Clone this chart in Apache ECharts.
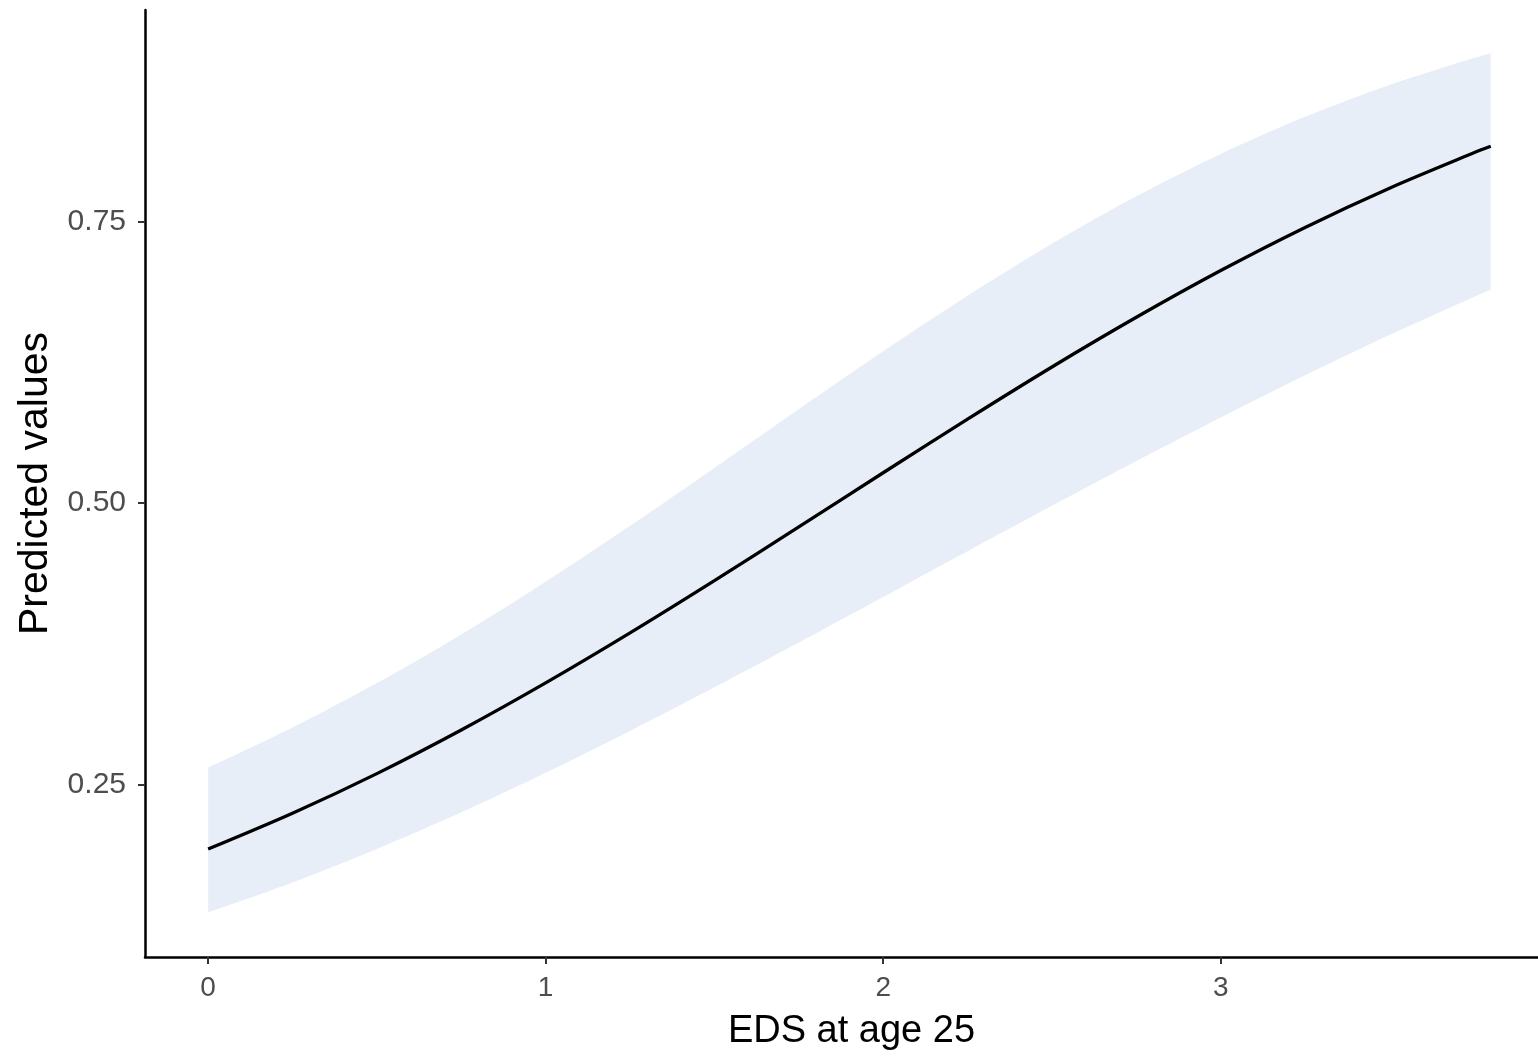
<!DOCTYPE html>
<html>
<head>
<meta charset="utf-8">
<script src="https://cdn.jsdelivr.net/npm/echarts@6/dist/echarts.min.js"></script>
<style>
html,body{margin:0;padding:0;background:#fff;}
#chart{width:1538px;height:1056px;}
</style>
</head>
<body>
<div id="chart"></div>
<script>
// EDS at age 25 (x) values
var xValues = [0, 0.25, 0.5, 0.75, 1.0, 1.25, 1.5, 1.75, 2.0, 2.25, 2.5, 2.75, 3.0, 3.25, 3.5, 3.75, 3.8];
// predicted values (fitted line)
var fitValues = [0.1927, 0.2245, 0.2597, 0.2984, 0.3402, 0.3846, 0.4310, 0.4787, 0.5268, 0.5744, 0.6207, 0.6648, 0.7063, 0.7446, 0.7794, 0.8108, 0.8166];
// confidence band
var upperValues = [0.2649, 0.3006, 0.3401, 0.3833, 0.4301, 0.4797, 0.5311, 0.5832, 0.6346, 0.6839, 0.7300, 0.7722, 0.8098, 0.8428, 0.8711, 0.8950, 0.8993];
var lowerValues = [0.1365, 0.1631, 0.1928, 0.2254, 0.2605, 0.2976, 0.3363, 0.3761, 0.4166, 0.4572, 0.4975, 0.5372, 0.5759, 0.6133, 0.6490, 0.6828, 0.6893];
// tick labels
var xTicks = [0, 1, 2, 3];
var yTicks = [0.25, 0.5, 0.75];

var fitData = xValues.map(function (x, i) { return [x, fitValues[i]]; });
// value first, x second, so that the stack is applied to the y value
var lowerData = xValues.map(function (x, i) { return [lowerValues[i], x]; });
var bandData = xValues.map(function (x, i) { return [upperValues[i] - lowerValues[i], x]; });

var chart = echarts.init(document.getElementById('chart'), null, {renderer: 'canvas'});
var font = '"Liberation Sans", Arial, Helvetica, sans-serif';
chart.setOption({
  animation: false,
  backgroundColor: '#ffffff',
  grid: {left: 145, right: 0, top: 10, bottom: 97, containLabel: false},
  xAxis: {
    type: 'value',
    min: -0.187,
    max: 3.94,
    name: 'EDS at age 25',
    nameLocation: 'middle',
    nameGap: 56,
    nameTextStyle: {color: '#000000', fontSize: 38, fontFamily: font, padding: [0, 0, 0, 20]},
    axisLine: {show: true, onZero: false, lineStyle: {color: '#000000', width: 2.5}},
    axisTick: {show: true, length: 7, lineStyle: {color: '#333333', width: 2}, customValues: xTicks},
    axisLabel: {show: true, color: '#4D4D4D', fontSize: 28, fontFamily: font, margin: 17, customValues: xTicks,
      formatter: function (v) { return String(v); }},
    splitLine: {show: false}
  },
  yAxis: {
    type: 'value',
    min: 0.0969,
    max: 0.9376,
    name: 'Predicted values',
    nameLocation: 'middle',
    nameGap: 89,
    nameRotate: 90,
    nameTextStyle: {color: '#000000', fontSize: 41, fontFamily: font},
    axisLine: {show: true, onZero: false, lineStyle: {color: '#000000', width: 2.5}},
    axisTick: {show: true, length: 7, lineStyle: {color: '#333333', width: 2}, customValues: yTicks},
    axisLabel: {show: true, color: '#4D4D4D', fontSize: 30, fontFamily: font, margin: 19, customValues: yTicks,
      formatter: function (v) { return v.toFixed(2); }},
    splitLine: {show: false}
  },
  series: [
    {
      name: 'lower',
      type: 'line',
      data: lowerData,
      encode: {x: 1, y: 0},
      stack: 'ci',
      smooth: 0.3,
      symbol: 'none',
      lineStyle: {opacity: 0, width: 0},
      silent: true,
      z: 1
    },
    {
      name: 'band',
      type: 'line',
      data: bandData,
      encode: {x: 1, y: 0},
      stack: 'ci',
      smooth: 0.3,
      symbol: 'none',
      lineStyle: {opacity: 0, width: 0},
      areaStyle: {color: '#E8EEF7', opacity: 1},
      silent: true,
      z: 1
    },
    {
      name: 'fit',
      type: 'line',
      data: fitData,
      smooth: 0.3,
      symbol: 'none',
      lineStyle: {color: '#000000', width: 3.3},
      z: 3
    }
  ]
});
</script>
</body>
</html>
